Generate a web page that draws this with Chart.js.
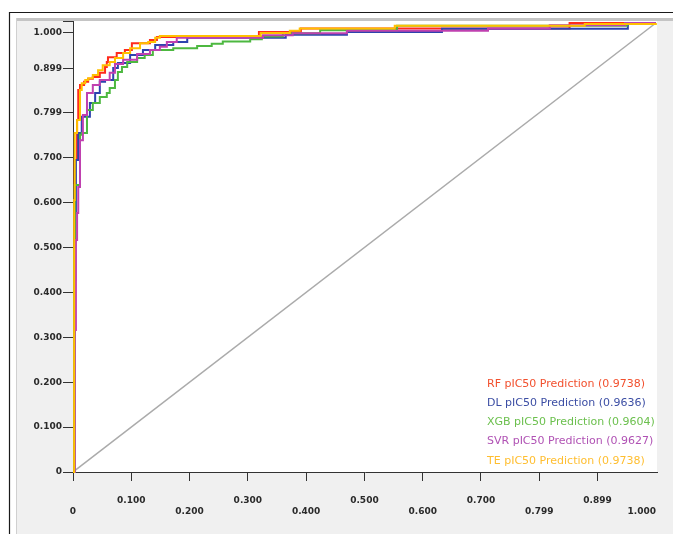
<!DOCTYPE html>
<html><head><meta charset="utf-8">
<script src="https://cdn.jsdelivr.net/npm/chart.js@4.4.1/dist/chart.umd.min.js"></script>
<style>html,body{margin:0;padding:0;background:#fff;}canvas{display:block;}</style>
</head><body>
<canvas id="c" width="673" height="534"></canvas>
<script>
// ---- data ----
const seriesNames = ['RF pIC50 Prediction','DL pIC50 Prediction','XGB pIC50 Prediction','SVR pIC50 Prediction','TE pIC50 Prediction'];
const seriesAUC = ['0.9738','0.9636','0.9604','0.9627','0.9738'];

const rfFPR = [0,0.002,0.003,0.007,0.009,0.012,0.019,0.026,0.034,0.046,0.055,0.058,0.060,0.075,0.089,0.101,0.132,0.144,0.319,0.391,0.852,1.0];
const rfTPR = [0,0.472,0.695,0.784,0.851,0.862,0.869,0.876,0.880,0.889,0.902,0.913,0.924,0.933,0.940,0.955,0.962,0.969,0.980,0.988,1.0,1.0];

const dlFPR = [0,0.003,0.004,0.005,0.009,0.015,0.029,0.038,0.046,0.055,0.069,0.077,0.098,0.120,0.141,0.172,0.196,0.365,0.470,0.633,0.952,1.0];
const dlTPR = [0,0.428,0.577,0.695,0.755,0.791,0.822,0.844,0.869,0.873,0.900,0.911,0.929,0.940,0.951,0.958,0.967,0.974,0.980,0.987,1.0,1.0];

const xgbFPR = [0,0.002,0.003,0.012,0.015,0.024,0.034,0.046,0.058,0.063,0.072,0.077,0.084,0.093,0.110,0.123,0.137,0.172,0.213,0.238,0.257,0.304,0.324,0.360,0.424,0.556,0.950,1.0];
const xgbTPR = [0,0.494,0.639,0.751,0.755,0.806,0.822,0.835,0.844,0.855,0.873,0.891,0.902,0.913,0.922,0.929,0.940,0.944,0.949,0.954,0.959,0.964,0.970,0.977,0.984,0.994,1.0,1.0];

const svrFPR = [0,0.003,0.005,0.007,0.009,0.012,0.017,0.024,0.034,0.046,0.063,0.072,0.086,0.110,0.132,0.149,0.161,0.178,0.326,0.377,0.470,0.712,0.818,0.947,1.0];
const svrTPR = [0,0.316,0.517,0.577,0.635,0.739,0.795,0.844,0.862,0.873,0.889,0.909,0.918,0.931,0.940,0.947,0.958,0.967,0.973,0.977,0.983,0.988,0.995,1.0,1.0];

const teFPR = [0,0.002,0.003,0.007,0.012,0.015,0.021,0.026,0.034,0.043,0.051,0.063,0.072,0.086,0.098,0.115,0.129,0.141,0.149,0.322,0.372,0.389,0.552,0.878,1.0];
const teTPR = [0,0.606,0.755,0.784,0.851,0.866,0.873,0.877,0.884,0.895,0.906,0.913,0.922,0.933,0.944,0.955,0.958,0.967,0.971,0.978,0.983,0.988,0.994,0.998,1.0];

const diagX = [0,1];
const diagY = [0,1];

const yTickValues = [0,0.1,0.2,0.3,0.4,0.5,0.6,0.7,0.8,0.898,0.978];
const yTickLabels = ['0','0.100','0.200','0.300','0.400','0.500','0.600','0.700','0.799','0.899','1.000'];
const xTickValues = [0,0.1,0.2,0.3,0.4,0.5,0.6,0.7,0.8,0.9,0.976];
const xTickLabels = ['0','0.100','0.200','0.300','0.400','0.500','0.600','0.700','0.799','0.899','1.000'];

// ---- styles ----
const lineColors = ['#ff2b1c','#2d43ae','#4db840','#c040b0','#ffc000'];
const textColors = ['#f2502e','#3c4ea4','#6cc04e','#b052b4','#ffbe30'];
const drawOrder = [4,3,2,1,0];

function pts(xs, ys){ return xs.map((x,i)=>({x:x, y:ys[i]})); }
const fprs = [rfFPR, dlFPR, xgbFPR, svrFPR, teFPR];
const tprs = [rfTPR, dlTPR, xgbTPR, svrTPR, teTPR];

const datasets = seriesNames.map((n,i)=>({
  label: n + ' (' + seriesAUC[i] + ')',
  data: pts(fprs[i], tprs[i]),
  borderColor: lineColors[i],
  backgroundColor: lineColors[i],
  borderWidth: 2,
  pointRadius: 0,
  stepped: true,
  fill: false,
  order: drawOrder[i],
  clip: 3
}));
datasets.push({
  label: 'diag',
  data: pts(diagX, diagY),
  borderColor: '#ababab',
  borderWidth: 1.5,
  pointRadius: 0,
  fill: false,
  order: 10
});

const framePlugin = {
  id: 'frame',
  beforeDraw(chart){
    const ctx = chart.ctx, a = chart.chartArea;
    ctx.save();
    ctx.fillStyle = '#ffffff';
    ctx.fillRect(0,0,chart.width,chart.height);
    ctx.fillStyle = '#f0f0f0';
    ctx.fillRect(16,18,chart.width-16,chart.height-18);
    ctx.fillStyle = '#c4c4c4';
    ctx.fillRect(16,18,chart.width-16,3);
    ctx.fillStyle = '#d0d0d0';
    ctx.fillRect(16,18,1,chart.height-18);
    ctx.strokeStyle = '#1a1a1a';
    ctx.lineWidth = 1.2;
    ctx.beginPath();
    ctx.moveTo(9.5,chart.height); ctx.lineTo(9.5,12.5); ctx.lineTo(chart.width,12.5);
    ctx.stroke();
    ctx.fillStyle = '#ffffff';
    ctx.fillRect(a.left, a.top, a.right-a.left, a.bottom-a.top);
    ctx.restore();
  },
  afterDraw(chart){
    const ctx = chart.ctx, a = chart.chartArea;
    ctx.save();
    ctx.strokeStyle = '#333';
    ctx.lineWidth = 1;
    ctx.beginPath();
    ctx.moveTo(a.left-10, a.top+0.5); ctx.lineTo(a.left+0.5, a.top+0.5);
    ctx.stroke();
    ctx.font = '11px "DejaVu Sans"';
    ctx.textBaseline = 'middle';
    ctx.textAlign = 'left';
    chart.data.datasets.slice(0,5).forEach((d,i)=>{
      ctx.fillStyle = textColors[i];
      ctx.fillText(d.label, 487, 384 + i*19.2);
    });
    ctx.restore();
  }
};

Chart.defaults.font.family = '"DejaVu Sans", sans-serif';

new Chart(document.getElementById('c'), {
  type: 'line',
  data: { datasets },
  options: {
    responsive: false,
    animation: false,
    devicePixelRatio: 1,
    layout: { padding: { left: 0, top: 21, right: 16, bottom: 0 } },
    plugins: { legend: { display: false }, tooltip: { enabled: false } },
    scales: {
      x: {
        type: 'linear', min: 0, max: 1.002,
        afterFit(s){ s.height = 62; },
        afterBuildTicks(s){ s.ticks = xTickValues.map(v=>({value:v})); },
        grid: { drawOnChartArea: false, tickLength: 9, tickColor: (c)=> c.index === xTickValues.length-1 ? 'rgba(0,0,0,0)' : '#333', lineWidth: 1 },
        border: { display: true, color: '#333', width: 1 },
        ticks: {
          autoSkip: false, maxRotation: 0, minRotation: 0, padding: 14,
          color: '#2a2a2a',
          font: { size: 9, weight: 'bold', lineHeight: 1.2 },
          callback: (v, i) => (i % 2 === 1) ? [xTickLabels[i], ''] : ['', xTickLabels[i]]
        }
      },
      y: {
        type: 'linear', min: 0, max: 1.0045,
        afterFit(s){ s.width = 73; },
        afterBuildTicks(s){ s.ticks = yTickValues.map(v=>({value:v})); },
        grid: { drawOnChartArea: false, tickLength: 10, tickColor: '#333', lineWidth: 1 },
        border: { display: true, color: '#333', width: 1 },
        ticks: {
          autoSkip: false, padding: 1, color: '#2a2a2a',
          font: { size: 9, weight: 'bold' },
          callback: (v, i) => yTickLabels[i]
        }
      }
    }
  },
  plugins: [framePlugin]
});
</script>
</body></html>
